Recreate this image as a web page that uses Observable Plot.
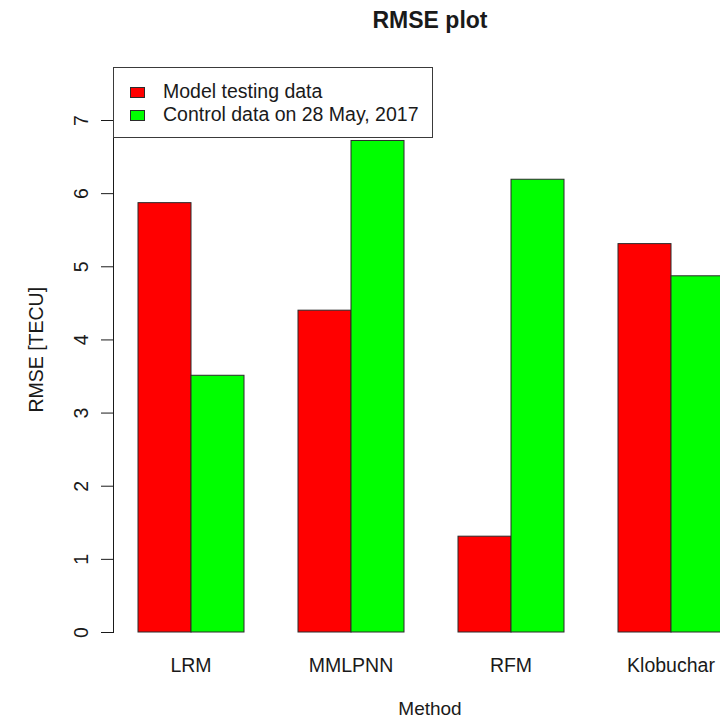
<!DOCTYPE html>
<html><head><meta charset="utf-8">
<script src="https://cdn.jsdelivr.net/npm/d3@7"></script>
<script src="https://cdn.jsdelivr.net/npm/@observablehq/plot@0.6"></script>
<style>
html,body{margin:0;padding:0;background:#fff;}
body{width:720px;height:720px;overflow:hidden;position:relative;font-family:"Liberation Sans",Arial,Helvetica,sans-serif;color:#1a1a1a;}
.abs{position:absolute;line-height:1;white-space:nowrap;}
#chart{position:absolute;left:0;top:40px;}
#legend{position:absolute;left:113px;top:67px;width:318px;height:69px;border:1px solid #3a3a3a;background:#fff;}
.sw{position:absolute;width:13px;height:9px;border:1px solid #2b2b2b;}
.lt{position:absolute;font-size:19.5px;line-height:1;white-space:nowrap;}
</style></head><body>
<div id="title" class="abs" style="left:230px;width:400px;top:9px;text-align:center;font-weight:bold;font-size:23px;"></div>
<div id="chart"></div>
<div id="xtitle" class="abs" style="left:330px;width:200px;top:699px;text-align:center;font-size:19px;"></div>
<div id="ytitle" class="abs" style="left:-63px;width:200px;top:340px;text-align:center;font-size:19.5px;transform:rotate(-90deg);"></div>
<div id="legend"></div>
<script>
const methods = ["LRM", "MMLPNN", "RFM", "Klobuchar"];
const seriesNames = ["Model testing data", "Control data on 28 May, 2017"];
const modelTesting = [5.87, 4.40, 1.31, 5.31];
const controlData = [3.51, 6.72, 6.19, 4.87];
const seriesColors = ["#ff0000", "#00ff00"];
const yTicks = [0, 1, 2, 3, 4, 5, 6, 7];
const chartTitle = "RMSE plot";
const xTitle = "Method";
const yTitle = "RMSE [TECU]";

const rows = methods.flatMap((m, i) => [
  {method: m, series: seriesNames[0], value: modelTesting[i]},
  {method: m, series: seriesNames[1], value: controlData[i]}
]);

document.getElementById("title").textContent = chartTitle;
document.getElementById("xtitle").textContent = xTitle;
document.getElementById("ytitle").textContent = yTitle;

const legend = document.getElementById("legend");
seriesNames.forEach((s, i) => {
  const sw = document.createElement("div");
  sw.className = "sw";
  sw.style.left = "16px";
  sw.style.top = (19 + i * 23) + "px";
  sw.style.background = seriesColors[i];
  legend.appendChild(sw);
  const t = document.createElement("div");
  t.className = "lt";
  t.style.left = "49px";
  t.style.top = (14 + i * 23) + "px";
  t.textContent = s;
  legend.appendChild(t);
});

const chart = Plot.plot({
  width: 720,
  height: 680,
  marginTop: 80,
  marginBottom: 88,
  marginLeft: 113,
  marginRight: -28.3,
  style: {fontFamily: '"Liberation Sans", Arial, Helvetica, sans-serif', fontSize: "19.5px", color: "#1a1a1a", background: "transparent"},
  fx: {domain: methods, paddingInner: 0.03, paddingOuter: 0, label: null, tickSize: 0, tickPadding: 26, axis: "bottom"},
  x: {domain: seriesNames, paddingOuter: 0.4505, paddingInner: 0, axis: null},
  y: {domain: [0, 7], ticks: yTicks, tickFormat: d => String(d), tickSize: 12, tickPadding: 14, tickRotate: -90, line: true, label: null, grid: false},
  color: {domain: seriesNames, range: seriesColors},
  marks: [
    Plot.barY(rows, {fx: "method", x: "series", y: "value", fill: "series", stroke: "#2b2b2b", strokeWidth: 1, inset: 0})
  ]
});
document.getElementById("chart").appendChild(chart);
</script>
</body></html>
